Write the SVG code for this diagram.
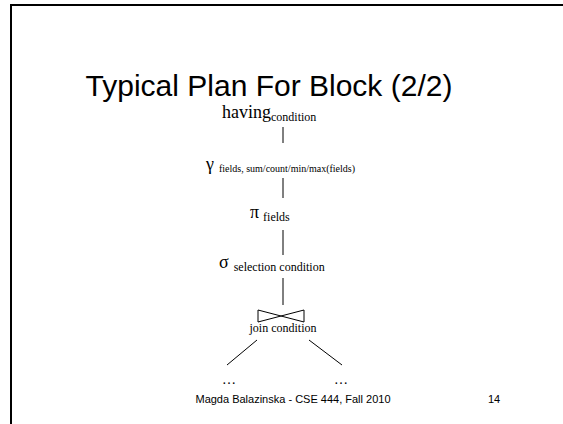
<svg xmlns="http://www.w3.org/2000/svg" width="563" height="424" viewBox="0 0 563 424">
  <style>
    .serif { font-family: "Liberation Serif", "Times New Roman", serif; fill: #000; }
    .sans { font-family: "Liberation Sans", Arial, sans-serif; fill: #000; }
    .edge { stroke: #000; stroke-width: 1; fill: none; }
  </style>
  <rect width="563" height="424" fill="#fff"/>
  <!-- slide frame, open to the right and bottom -->
  <path d="M11 430 V5 H570" fill="none" stroke="#000" stroke-width="2"/>

  <text class="sans" x="269" y="96" font-size="30" text-anchor="middle">Typical Plan For Block (2/2)</text>

  <g id="connectors">
    <line class="edge" x1="283" y1="127" x2="283" y2="143"/>
    <line class="edge" x1="283" y1="178" x2="283" y2="198"/>
    <line class="edge" x1="283" y1="230" x2="283" y2="255"/>
    <line class="edge" x1="283" y1="278" x2="283" y2="305"/>
    <line class="edge" x1="257" y1="340" x2="227" y2="365"/>
    <line class="edge" x1="309" y1="340" x2="342" y2="365"/>
  </g>

  <g id="having">
    <text class="serif" x="222" y="118" font-size="18">having<tspan font-size="12" dy="3">condition</tspan></text>
  </g>

  <g id="group-by">
    <text class="serif" x="206" y="170" font-size="18">γ<tspan font-size="10" dx="5" dy="2">fields, sum/count/min/max(fields)</tspan></text>
  </g>

  <g id="project">
    <text class="serif" x="250" y="218" font-size="18">π<tspan font-size="12" dx="4" dy="3">fields</tspan></text>
  </g>

  <g id="select">
    <text class="serif" x="219" y="268" font-size="18">σ<tspan font-size="12" dx="5" dy="3">selection condition</tspan></text>
  </g>

  <g id="join">
    <path class="edge" d="M258 310 L304 322 V310 L258 322 Z"/>
    <text class="serif" x="283" y="332" font-size="12" text-anchor="middle">join condition</text>
  </g>

  <g id="left-input">
    <text class="serif" x="229" y="384" font-size="14" text-anchor="middle">…</text>
  </g>
  <g id="right-input">
    <text class="serif" x="341" y="384" font-size="14" text-anchor="middle">…</text>
  </g>

  <text class="sans" x="293" y="403" font-size="11" text-anchor="middle">Magda Balazinska - CSE 444, Fall 2010</text>
  <text class="sans" x="494" y="403" font-size="11" text-anchor="middle">14</text>
</svg>
